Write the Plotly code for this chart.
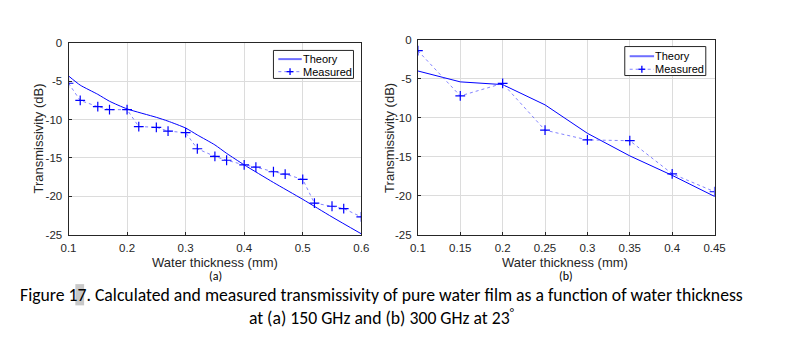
import plotly.graph_objects as go

# ---- data ----
theory_a_x = [0.1, 0.12, 0.15, 0.17, 0.2, 0.25, 0.27, 0.3, 0.32, 0.35, 0.37, 0.4, 0.45, 0.5, 0.55, 0.6]
theory_a_y = [-4.3, -5.5, -6.7, -7.6, -8.6, -9.7, -10.2, -11.1, -12.0, -13.3, -14.4, -15.9, -18.2, -20.4, -22.7, -24.9]
meas_a_x = [0.1, 0.12, 0.15, 0.17, 0.2, 0.22, 0.25, 0.27, 0.3, 0.32, 0.35, 0.37, 0.4, 0.42, 0.45, 0.47, 0.5, 0.52, 0.55, 0.57, 0.6]
meas_a_y = [-5.25, -7.5, -8.3, -8.7, -8.7, -10.9, -11.0, -11.5, -11.7, -13.8, -14.8, -15.3, -15.9, -16.2, -16.8, -17.1, -17.8, -20.9, -21.3, -21.6, -22.7]

theory_b_x = [0.1, 0.15, 0.2, 0.25, 0.3, 0.35, 0.4, 0.45]
theory_b_y = [-4.0, -5.4, -5.75, -8.35, -12.0, -14.9, -17.4, -20.1]
meas_b_x = [0.1, 0.15, 0.2, 0.25, 0.3, 0.35, 0.4, 0.45]
meas_b_y = [-1.4, -7.2, -5.6, -11.6, -12.85, -12.95, -17.2, -19.5]

y_ticks = [0, -5, -10, -15, -20, -25]
y_ticktext = ["0", "-5", "-10", "-15", "-20", "-25"]
xa_ticks = [0.1, 0.2, 0.3, 0.4, 0.5, 0.6]
xa_ticktext = ["0.1", "0.2", "0.3", "0.4", "0.5", "0.6"]
xb_ticks = [0.1, 0.15, 0.2, 0.25, 0.3, 0.35, 0.4, 0.45]
xb_ticktext = ["0.1", "0.15", "0.2", "0.25", "0.3", "0.35", "0.4", "0.45"]
legend_labels = ["Theory", "Measured"]

W, H = 789, 350
def px(x): return x / W
def py(y): return 1 - y / H

BLUE = "#0000ff"
LIGHT = "rgba(90,90,255,0.75)"
FONT = "Liberation Sans, Arial, sans-serif"
CAP_FONT = "Carlito, Liberation Sans Narrow, Arial Narrow, sans-serif"

fig = go.Figure()
fig.add_trace(go.Scatter(x=theory_a_x, y=theory_a_y, mode="lines", name=legend_labels[0],
                         line=dict(color=BLUE, width=1, shape="spline", smoothing=0.6),
                         xaxis="x", yaxis="y"))
fig.add_trace(go.Scatter(x=meas_a_x, y=meas_a_y, mode="lines+markers", name=legend_labels[1],
                         line=dict(color=LIGHT, width=1, dash="dot"),
                         marker=dict(symbol="cross-thin", size=7, line=dict(color=BLUE, width=1.2)),
                         xaxis="x", yaxis="y"))
fig.add_trace(go.Scatter(x=theory_b_x, y=theory_b_y, mode="lines", name=legend_labels[0],
                         line=dict(color=BLUE, width=1),
                         xaxis="x2", yaxis="y2"))
fig.add_trace(go.Scatter(x=meas_b_x, y=meas_b_y, mode="lines+markers", name=legend_labels[1],
                         line=dict(color=LIGHT, width=1, dash="dot"),
                         marker=dict(symbol="cross-thin", size=7, line=dict(color=BLUE, width=1.2)),
                         xaxis="x2", yaxis="y2"))

axis_common = dict(showline=True, linecolor="#262626", linewidth=1, mirror=True,
                   showgrid=True, gridcolor="#dcdcdc", gridwidth=1, zeroline=False,
                   ticks="inside", ticklen=3, tickcolor="#262626", ticklabelstandoff=3,
                   tickfont=dict(family=FONT, size=11.5, color="#262626"))

fig.update_layout(
    width=W, height=H, margin=dict(l=0, r=0, t=0, b=0),
    paper_bgcolor="white", plot_bgcolor="white", showlegend=False,
    xaxis=dict(domain=[px(62), px(362)], range=[0.1, 0.6], tickvals=xa_ticks, ticktext=xa_ticktext,
               anchor="y", **axis_common),
    yaxis=dict(domain=[py(236.7), py(38.3)], range=[-25, 0], tickvals=y_ticks, ticktext=y_ticktext,
               anchor="x", **axis_common),
    xaxis2=dict(domain=[px(420), px(724)], range=[0.1, 0.45], tickvals=xb_ticks, ticktext=xb_ticktext,
                anchor="y2", **axis_common),
    yaxis2=dict(domain=[py(236.7), py(35)], range=[-25, 0], tickvals=y_ticks, ticktext=y_ticktext,
                anchor="x2", **axis_common),
)

# ---- manual legends (compact MATLAB-style boxes) ----
def add_legend(x0, y0, x1, y1, line_x0, line_x1, text_x, y_row1, y_row2):
    fig.add_shape(type="rect", xref="paper", yref="paper", x0=px(x0), x1=px(x1), y0=py(y1), y1=py(y0),
                  fillcolor="white", line=dict(color="#262626", width=1), layer="above")
    fig.add_shape(type="line", xref="paper", yref="paper", x0=px(line_x0), x1=px(line_x1),
                  y0=py(y_row1), y1=py(y_row1), line=dict(color="#6f6fff", width=2), layer="above")
    fig.add_shape(type="line", xref="paper", yref="paper", x0=px(line_x0), x1=px(line_x1),
                  y0=py(y_row2), y1=py(y_row2), line=dict(color=LIGHT, width=1, dash="dot"), layer="above")
    cx = (line_x0 + line_x1) / 2
    fig.add_shape(type="line", xref="paper", yref="paper", x0=px(cx - 3.5), x1=px(cx + 3.5),
                  y0=py(y_row2), y1=py(y_row2), line=dict(color=BLUE, width=1.3), layer="above")
    fig.add_shape(type="line", xref="paper", yref="paper", x0=px(cx), x1=px(cx),
                  y0=py(y_row2 - 3.5), y1=py(y_row2 + 3.5), line=dict(color=BLUE, width=1.3), layer="above")
    for lab, yy in zip(legend_labels, [y_row1, y_row2]):
        fig.add_annotation(text=lab, x=px(text_x), y=py(yy), xref="paper", yref="paper", showarrow=False,
                           xanchor="left", yanchor="middle", borderpad=0,
                           font=dict(family=FONT, size=11, color="black"))

add_legend(272, 46, 354, 75, 277, 301, 301, 55, 68)
add_legend(632, 42, 715, 72, 637, 662, 662, 52, 65.5)

ann_font = dict(family=FONT, size=13, color="#262626")
anns = [
    dict(text="Transmissivity (dB)", x=px(31), y=py(137), textangle=-90),
    dict(text="Transmissivity (dB)", x=px(391), y=py(137), textangle=-90),
    dict(text="Water thickness (mm)", x=px(212), y=py(266)),
    dict(text="Water thickness (mm)", x=px(571), y=py(266)),
]
for a in anns:
    fig.add_annotation(xref="paper", yref="paper", xanchor="center", yanchor="middle", borderpad=0,
                       showarrow=False, font=ann_font, **a)
fig.add_annotation(text="(a)", x=px(213), y=py(280), xref="paper", yref="paper", showarrow=False,
                   xanchor="center", yanchor="middle", borderpad=0,
                   font=dict(family=CAP_FONT, size=12, color="black"))
fig.add_annotation(text="(b)", x=px(572), y=py(280), xref="paper", yref="paper", showarrow=False,
                   xanchor="center", yanchor="middle", borderpad=0,
                   font=dict(family=CAP_FONT, size=12, color="black"))
fig.add_annotation(text="Figure 17. Calculated and measured transmissivity of pure water film as a function of water thickness"
                        "<br>at (a) 150 GHz and (b) 300 GHz at 23<sup>°</sup>",
                   x=px(383), y=py(311), xref="paper", yref="paper", showarrow=False, align="center",
                   xanchor="center", yanchor="middle", borderpad=0,
                   font=dict(family=CAP_FONT, size=17.7, color="black"))
fig.add_shape(type="rect", xref="paper", yref="paper", x0=px(69), x1=px(78), y0=py(310), y1=py(288),
              fillcolor="#c8c8c8", line=dict(width=0), layer="below")

fig.write_html("out.html")
